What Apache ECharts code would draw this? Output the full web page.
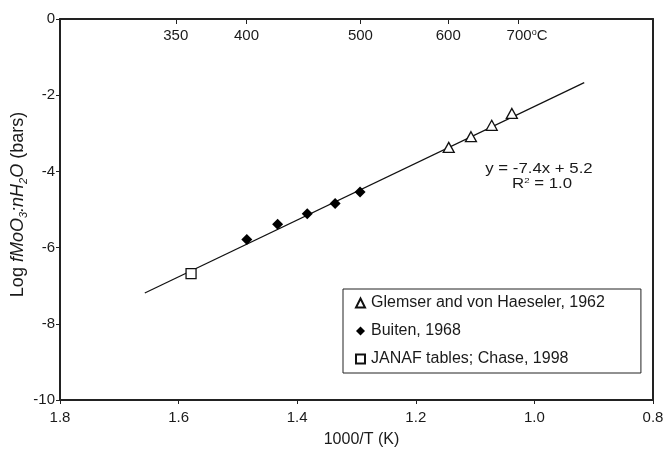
<!DOCTYPE html>
<html>
<head>
<meta charset="utf-8">
<script src="https://cdn.jsdelivr.net/npm/echarts@6/dist/echarts.min.js"></script>
<style>
  html, body { margin: 0; padding: 0; background: #fff; }
  #main { width: 664px; height: 451px; }
</style>
</head>
<body>
<div id="main"></div>
<script>
// data: [1000/T, log f]
var glemser = [[1.1445, -3.37], [1.107, -3.09], [1.072, -2.79], [1.038, -2.48]];
var buiten = [[1.485, -5.79], [1.433, -5.39], [1.383, -5.11], [1.336, -4.84], [1.294, -4.54]];
var janaf = [[1.579, -6.685]];
var fitLine = [[1.657, -7.19], [0.916, -1.67]];
var tempsC = [350, 400, 500, 600, 700];

var seriesNames = ['Glemser and von Haeseler, 1962', 'Buiten, 1968', 'JANAF tables; Chase, 1998'];

// top axis: degrees C placed at 1000/T(K)
var tempPos = tempsC.map(function (t) { return 1000 / (t + 273.15); });
function tempLabel(v) {
  var best = 0;
  for (var i = 0; i < tempPos.length; i++) {
    if (Math.abs(tempPos[i] - v) < Math.abs(tempPos[best] - v)) best = i;
  }
  var t = tempsC[best];
  if (t === 700) return '{pad|}' + t + '{sup|o}C';
  return String(t);
}

var chart = echarts.init(document.getElementById('main'));
var txt = '#1a1a1a';
var fnt = 'Liberation Sans, Arial, sans-serif';

chart.setOption({
  animation: false,
  textStyle: { fontFamily: fnt, color: txt },
  grid: { left: 60, right: 11, top: 19, bottom: 51, outerBoundsMode: 'none', containLabel: false },
  legend: {
    data: seriesNames,
    orient: 'vertical',
    left: 343,
    top: 289,
    padding: [5, 36, 5, 12],
    itemGap: 10,
    itemWidth: 9,
    itemHeight: 9,
    borderColor: '#222',
    borderWidth: 1,
    borderRadius: 0,
    textStyle: { fontSize: 16, color: txt, fontFamily: fnt, lineHeight: 18, padding: [0, 0, 0, 1] }
  },
  xAxis: [
    {
      type: 'value',
      min: 0.8, max: 1.8, interval: 0.2,
      inverse: true,
      name: '1000/T (K)',
      nameLocation: 'middle',
      nameGap: 32,
      nameTextStyle: { fontSize: 16, color: txt, padding: [0, 0, 0, 10] },
      axisLine: { onZero: false, lineStyle: { color: '#222', width: 2 } },
      axisTick: { show: true, length: 4, lineStyle: { color: '#222', width: 1 } },
      axisLabel: { fontSize: 15, color: txt, margin: 10, formatter: function (v) { return v.toFixed(1); } },
      splitLine: { show: false }
    },
    {
      type: 'value',
      position: 'top',
      min: 0.8, max: 1.8,
      inverse: true,
      axisLine: { onZero: false, lineStyle: { color: '#222', width: 2 } },
      axisTick: { show: true, inside: true, length: 5, customValues: tempPos, lineStyle: { color: '#222', width: 1 } },
      axisLabel: {
        show: true, inside: true, fontSize: 15, color: txt, margin: 9,
        customValues: tempPos,
        formatter: tempLabel,
        rich: {
          pad: { width: 18 },
          sup: { fontSize: 9, verticalAlign: 'top', lineHeight: 15 }
        }
      },
      splitLine: { show: false }
    }
  ],
  yAxis: [
    {
      type: 'value',
      min: -10, max: 0, interval: 2,
      name: '{n|Log }{i|fMoO}{s|3}{i|:nH}{s|2}{i|O}{n| (bars)}',
      nameLocation: 'middle',
      nameGap: 31,
      nameMoveOverlap: false,
      nameRotate: 90,
      nameTextStyle: {
        fontSize: 18, color: txt,
        padding: [0, 0, 0, 10],
        rich: {
          n: { fontSize: 18, color: txt, lineHeight: 22, verticalAlign: 'middle' },
          i: { fontSize: 18, color: txt, fontStyle: 'italic', lineHeight: 22, verticalAlign: 'middle' },
          s: { fontSize: 11, color: txt, fontStyle: 'italic', lineHeight: 22, verticalAlign: 'bottom' }
        }
      },
      axisLine: { onZero: false, lineStyle: { color: '#222', width: 2 } },
      axisTick: { show: true, length: 4, lineStyle: { color: '#222', width: 1 } },
      axisLabel: { fontSize: 15, color: txt, margin: 5 },
      splitLine: { show: false }
    },
    {
      type: 'value',
      position: 'right',
      min: -10, max: 0,
      axisLine: { show: true, onZero: false, lineStyle: { color: '#222', width: 2 } },
      axisTick: { show: false },
      axisLabel: { show: false },
      splitLine: { show: false }
    }
  ],
  graphic: [
    {
      type: 'text',
      x: 539,
      y: 169,
      scaleX: 1.2,
      style: {
        text: 'y = -7.4x + 5.2',
        font: '14px ' + fnt,
        fill: txt,
        align: 'center',
        verticalAlign: 'middle'
      }
    },
    {
      type: 'text',
      x: 542,
      y: 184,
      scaleX: 1.2,
      style: {
        text: '{r|R}{sup|2}{r| = 1.0}',
        font: '14px ' + fnt,
        fill: txt,
        align: 'center',
        verticalAlign: 'middle',
        rich: {
          r: { fontSize: 14, fill: txt, lineHeight: 14 },
          sup: { fontSize: 8, fill: txt, verticalAlign: 'top', lineHeight: 14 }
        }
      }
    }
  ],
  series: [
    {
      type: 'line',
      data: fitLine,
      symbol: 'none',
      silent: true,
      lineStyle: { color: '#111', width: 1.2 },
      z: 1
    },
    {
      name: seriesNames[0],
      type: 'scatter',
      data: glemser,
      symbol: 'triangle',
      symbolSize: [11, 10],
      itemStyle: { color: '#fff', borderColor: '#111', borderWidth: 1.3, opacity: 1 },
      z: 3
    },
    {
      name: seriesNames[1],
      type: 'scatter',
      data: buiten,
      symbol: 'diamond',
      symbolSize: [11, 11],
      itemStyle: { color: '#000', borderColor: '#000', borderWidth: 0, opacity: 1 },
      z: 3
    },
    {
      name: seriesNames[2],
      type: 'scatter',
      data: janaf,
      symbol: 'rect',
      symbolSize: [10, 10],
      itemStyle: { color: '#fff', borderColor: '#111', borderWidth: 1.3, opacity: 1 },
      z: 3
    }
  ]
});
</script>
</body>
</html>
